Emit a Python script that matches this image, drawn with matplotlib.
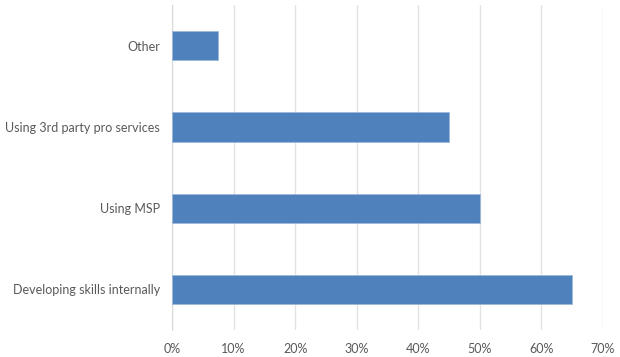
import matplotlib
matplotlib.use("Agg")
import matplotlib.pyplot as plt
from matplotlib.ticker import FuncFormatter

categories = ["Developing skills internally", "Using MSP",
              "Using 3rd party pro services", "Other"]
values = [65, 50, 45, 7.5]
xticks = [0, 10, 20, 30, 40, 50, 60, 70]

plt.rcParams['font.family'] = ['Lato', 'DejaVu Sans']

fig = plt.figure(figsize=(6.2, 3.57), dpi=100)
ax = fig.add_axes([0.2774, 0.0756, 0.6952, 0.9104])

ax.barh(range(len(categories)), values, height=0.36, color='#4F81BD',
        edgecolor='#9DB8DC', linewidth=0.6, zorder=3)

ax.set_xlim(0, 70)
ax.set_ylim(-0.5, len(categories) - 0.5)
ax.set_xticks(xticks)
ax.xaxis.set_major_formatter(FuncFormatter(lambda v, p: f"{int(v)}%"))
ax.set_yticks(range(len(categories)))
ax.set_yticklabels(categories)

ax.grid(axis='x', color='#E3E3E3', linewidth=1, zorder=0)
for s in ['top', 'right', 'bottom']:
    ax.spines[s].set_visible(False)
ax.spines['left'].set_color('#D9D9D9')
ax.tick_params(axis='both', length=0, labelsize=9, colors='#595959')
ax.tick_params(axis='x', pad=9)
ax.tick_params(axis='y', pad=8.5)

fig.savefig("out.png", dpi=100)
